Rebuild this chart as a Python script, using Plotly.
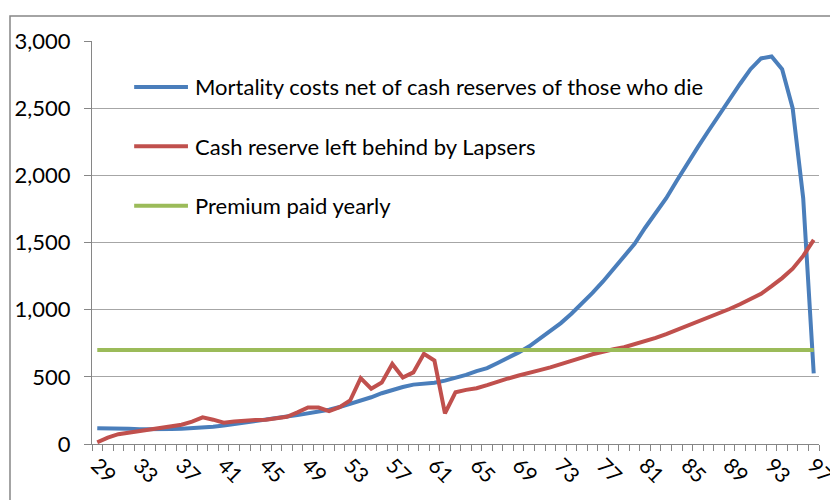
import plotly.graph_objects as go

# ages on the category axis
ages = list(range(29, 98))

# mortality costs net of cash reserves of those who die
mortality = [118, 118, 117, 113, 110, 109, 109, 111, 114, 117,
             120, 128, 138, 150, 163, 175, 185, 195, 205, 215,
             226, 238, 255, 275, 298, 322, 348, 378, 402, 424,
             442, 450, 456, 472, 492, 514, 543, 565, 603, 640,
             682, 727, 782, 844, 900, 970, 1045, 1125, 1210, 1300,
             1395, 1490, 1610, 1720, 1830, 1960, 2090, 2210, 2330, 2450,
             2560, 2680, 2790, 2870, 2885, 2790, 2500, 1830, 525]

# cash reserve left behind by lapsers
lapsers = [13, 48, 73, 85, 98, 108, 121, 131, 143, 166,
           198, 181, 158, 168, 176, 178, 181, 191, 203, 235,
           272, 271, 244, 274, 324, 490, 412, 457, 596, 495,
           533, 672, 621, 228, 385, 403, 415, 438, 465, 488,
           510, 533, 550, 570, 592, 615, 643, 668, 688, 705,
           720, 742, 765, 790, 818, 848, 880, 910, 940, 972,
           1005, 1040, 1078, 1118, 1175, 1235, 1305, 1400, 1520]

premium = [700] * len(ages)

names = ["Mortality costs net of cash reserves of those who die",
         "Cash reserve left behind by Lapsers",
         "Premium paid yearly"]
colors = ["#4A7EBB", "#C0504D", "#9BBB59"]
series = [mortality, lapsers, premium]

fig = go.Figure()
for name, vals, col in zip(names, series, colors):
    fig.add_trace(go.Scatter(x=ages, y=vals, mode="lines", name=name,
                             line=dict(color=col, width=4)))

# hand-drawn legend so the sample lines match the original length
leg_y = [0.886, 0.739, 0.591]
for name, col, ly in zip(names, colors, leg_y):
    fig.add_shape(type="line", xref="paper", yref="paper",
                  x0=0.058, x1=0.132, y0=ly, y1=ly,
                  line=dict(color=col, width=4))
    fig.add_annotation(text=name, xref="paper", yref="paper", x=0.139, y=ly,
                       xanchor="left", yanchor="middle", showarrow=False,
                       font=dict(size=22, color="#000000"))

# chart area border (Excel style)
fig.add_shape(type="rect", xref="paper", yref="paper",
              x0=-0.1128, x1=1.2, y0=-0.3, y1=1.062,
              line=dict(color="#868686", width=1.5), layer="below")

# page body has an 8px margin, so the figure is a bit smaller than the window
fig.update_layout(
    width=830, height=492,
    margin=dict(l=84, r=19, t=33, b=56),
    paper_bgcolor="white", plot_bgcolor="white",
    showlegend=False,
    font=dict(family="Lato, Carlito, Calibri, sans-serif", size=22, color="#000000"),
)
fig.update_xaxes(
    range=[28.5, 97.5],
    tickmode="array", tickvals=ages[::4], ticktext=[str(a) for a in ages[::4]],
    tickangle=45, ticks="", showgrid=False, zeroline=False,
    showline=True, linecolor="#868686", linewidth=1,
    tickfont=dict(size=21), automargin=False, ticklabeloverflow="allow",
    minor=dict(ticks="outside", tick0=28.5, dtick=1, ticklen=6,
               tickcolor="#868686", showgrid=False),
)
fig.update_yaxes(
    range=[0, 3000], dtick=500, tickformat=",",
    ticks="outside", ticklen=7, tickcolor="#868686",
    showgrid=True, gridcolor="#a6a6a6", gridwidth=1, zeroline=False,
    showline=True, linecolor="#868686", linewidth=1,
    tickfont=dict(size=22), automargin=False,
    ticklabelstandoff=9,
)

fig.write_html("out.html")
